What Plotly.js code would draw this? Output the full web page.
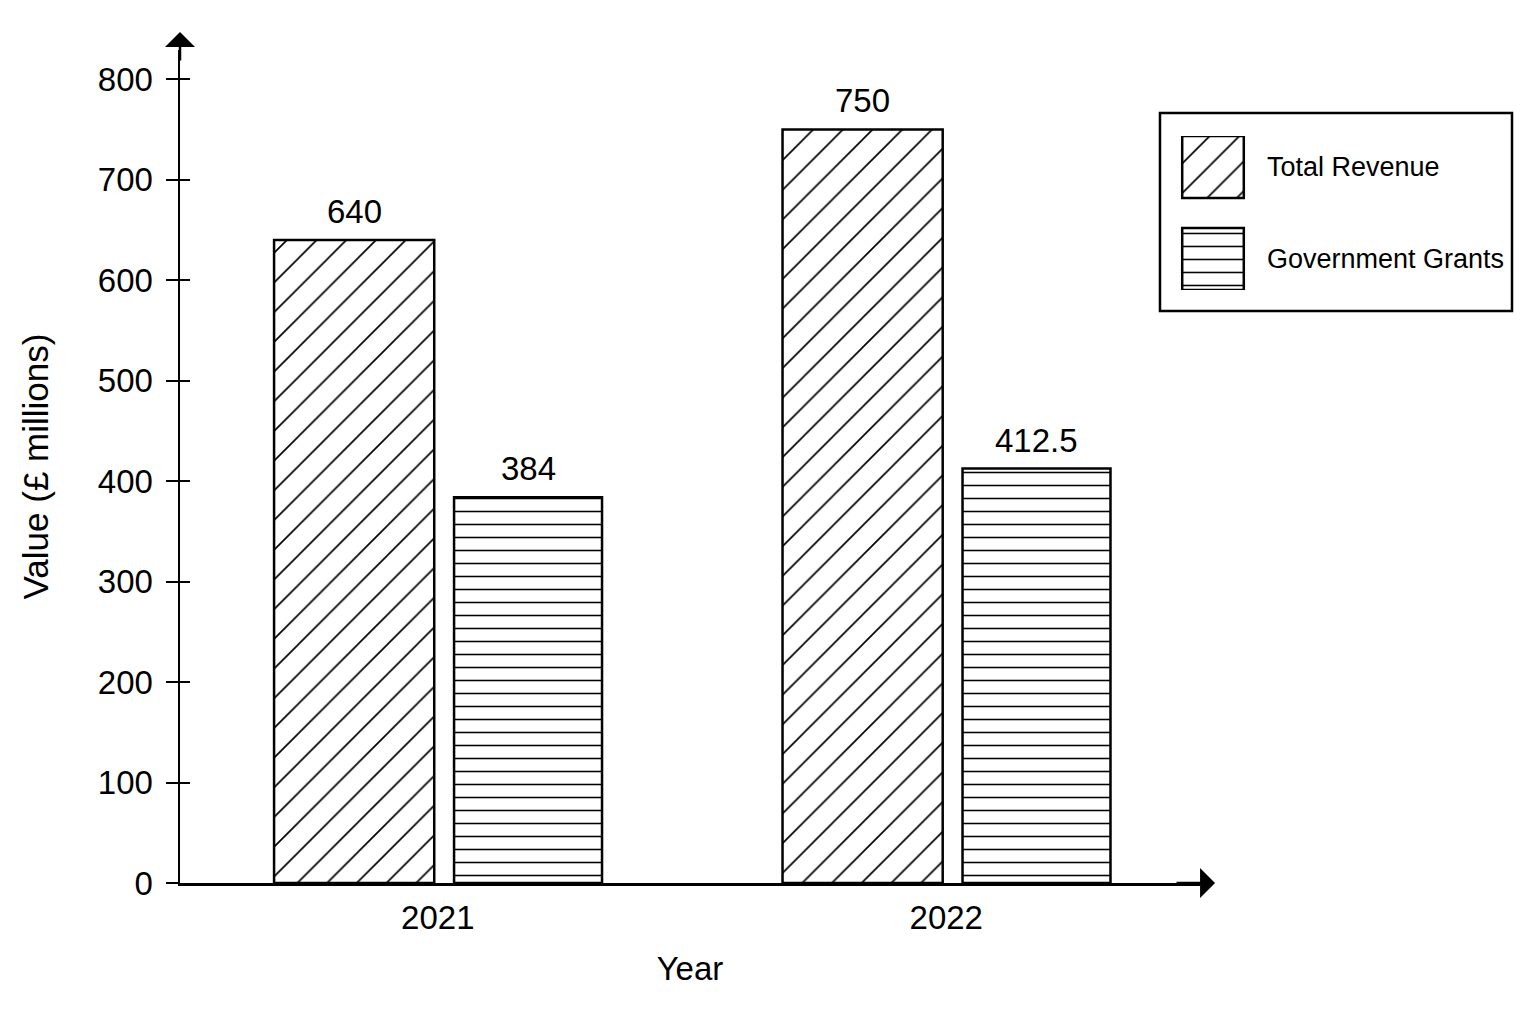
<!DOCTYPE html>
<html>
<head>
<meta charset="utf-8">
<script src="https://cdn.plot.ly/plotly-3.0.1.min.js"></script>
<style>
  html, body { margin: 0; padding: 0; background: #fff; }
  #chart { width: 1536px; height: 1024px; }
</style>
</head>
<body>
<div id="chart"></div>
<script>
'use strict';

const years = ['2021', '2022'];
const seriesNames = ['Total Revenue', 'Government Grants'];
const totalRevenue = [640, 750];
const governmentGrants = [384, 412.5];
const tickValues = [0, 100, 200, 300, 400, 500, 600, 700, 800];

const FONT = 'Liberation Sans, Arial, sans-serif';
const INK = '#000';

const barLine = { color: INK, width: 2.5 };

const diag = { shape: '/', size: 21, solidity: 0.08, fgcolor: INK, bgcolor: '#fff', fillmode: 'replace' };
const horiz = { shape: '-', size: 13, solidity: 0.12, fgcolor: INK, bgcolor: '#fff', fillmode: 'replace' };

// bar geometry within a category slot
const TR_OFFSET = -0.322, TR_WIDTH = 0.315;
const GG_OFFSET = 0.032, GG_WIDTH = 0.291;

const data = [
    {
        type: 'bar',
        name: seriesNames[0],
        x: years,
        y: totalRevenue,
        offset: TR_OFFSET,
        width: TR_WIDTH,
        marker: { color: '#fff', line: barLine, pattern: diag },
        showlegend: false,
        hoverinfo: 'none'
    },
    {
        type: 'bar',
        name: seriesNames[1],
        x: years,
        y: governmentGrants,
        offset: GG_OFFSET,
        width: GG_WIDTH,
        marker: { color: '#fff', line: barLine, pattern: horiz },
        showlegend: false,
        hoverinfo: 'none'
    },
    // carrier for the inner half of the y ticks
    {
        type: 'scatter',
        mode: 'markers',
        x: years,
        y: totalRevenue,
        yaxis: 'y3',
        marker: { opacity: 0 },
        showlegend: false,
        hoverinfo: 'none'
    },
    // legend swatches, drawn as bars on a small side axis
    {
        type: 'bar',
        orientation: 'h',
        x: [1],
        y: [seriesNames[0]],
        width: 0.674,
        xaxis: 'x2',
        yaxis: 'y2',
        marker: { color: '#fff', line: barLine, pattern: diag },
        showlegend: false,
        hoverinfo: 'none'
    },
    {
        type: 'bar',
        orientation: 'h',
        x: [1],
        y: [seriesNames[1]],
        width: 0.674,
        xaxis: 'x2',
        yaxis: 'y2',
        marker: { color: '#fff', line: barLine, pattern: horiz },
        showlegend: false,
        hoverinfo: 'none'
    }
];

// value labels above each bar
const labelFor = (vals, offset, width) => vals.map((v, i) => ({
    xref: 'x', yref: 'y',
    x: i + offset + width / 2,
    y: v,
    text: String(v),
    showarrow: false,
    yanchor: 'bottom',
    yshift: 8,
    font: { family: FONT, size: 33, color: INK }
}));

const layout = {
    width: 1536,
    height: 1024,
    margin: { l: 180, r: 0, t: 50, b: 141 },
    paper_bgcolor: '#fff',
    plot_bgcolor: 'rgba(0,0,0,0)',
    font: { family: FONT, color: INK, size: 33 },
    barmode: 'overlay',
    xaxis: {
        type: 'category',
        domain: [0, 0.7522],
        range: [-0.507, 1.499],
        showline: true,
        linecolor: INK,
        linewidth: 2.5,
        ticks: '',
        showgrid: false,
        zeroline: false,
        tickfont: { family: FONT, size: 33 },
        ticklabelstandoff: 4,
        title: { text: 'Year', font: { family: FONT, size: 33 }, standoff: 22 }
    },
    yaxis: {
        range: [0, 829],
        tickvals: tickValues,
        showline: true,
        linecolor: INK,
        linewidth: 2.5,
        ticks: 'outside',
        ticklen: 12,
        tickwidth: 2,
        tickcolor: INK,
        showgrid: false,
        zeroline: false,
        tickfont: { family: FONT, size: 33 },
        ticklabelstandoff: 6,
        title: { text: 'Value (£ millions)', font: { family: FONT, size: 35 }, standoff: 39 }
    },
    yaxis3: {
        overlaying: 'y',
        side: 'left',
        range: [0, 829],
        tickvals: tickValues,
        ticks: 'inside',
        ticklen: 10,
        tickwidth: 2,
        tickcolor: INK,
        showticklabels: false,
        showgrid: false,
        zeroline: false,
        showline: false
    },
    xaxis2: {
        domain: [0.7375, 0.7861],
        anchor: 'y2',
        range: [-0.035, 1.035],
        visible: false,
        fixedrange: true
    },
    yaxis2: {
        domain: [0.7119, 0.8968],
        anchor: 'x2',
        type: 'category',
        categoryorder: 'array',
        categoryarray: [seriesNames[1], seriesNames[0]],
        range: [-0.337, 1.337],
        side: 'right',
        showline: false,
        showgrid: false,
        zeroline: false,
        ticks: '',
        ticklabelstandoff: 20,
        tickfont: { family: FONT, size: 27 },
        fixedrange: true
    },
    shapes: [
        // legend frame
        {
            type: 'rect', xref: 'paper', yref: 'paper',
            x0: 0.7227, x1: 0.9823, y0: 0.6867, y1: 0.9244,
            line: { color: INK, width: 2.5 }, fillcolor: 'rgba(0,0,0,0)'
        }
    ],
    annotations: [
        // arrow heads on the axes
        {
            xref: 'paper', yref: 'paper', x: 0, y: 1.0216,
            ax: 0, ay: 30, text: '', showarrow: true,
            arrowhead: 1, arrowsize: 2, arrowwidth: 2.5, arrowcolor: INK
        },
        {
            xref: 'paper', yref: 'paper', x: 0.7633, y: 0,
            ax: -40, ay: 0, text: '', showarrow: true,
            arrowhead: 1, arrowsize: 2, arrowwidth: 2.5, arrowcolor: INK
        }
    ].concat(
        labelFor(totalRevenue, TR_OFFSET, TR_WIDTH),
        labelFor(governmentGrants, GG_OFFSET, GG_WIDTH)
    )
};

Plotly.newPlot('chart', data, layout, { displayModeBar: false, staticPlot: true });
</script>
</body>
</html>
